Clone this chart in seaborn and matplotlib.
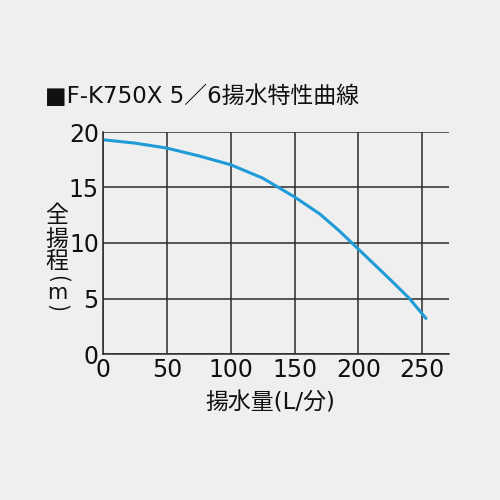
import matplotlib
matplotlib.use("Agg")
import matplotlib.pyplot as plt
import seaborn as sns
import pandas as pd

# data
flow = [0, 25, 50, 75, 100, 125, 150, 170, 185, 195, 200, 225, 240, 253]
head = [19.3, 19.0, 18.55, 17.85, 17.05, 15.85, 14.15, 12.6, 11.1, 10.0, 9.45, 6.7, 5.0, 3.2]
x_ticks = [0, 50, 100, 150, 200, 250]
y_ticks = [0, 5, 10, 15, 20]

title = "■F-K750X 5／6揚水特性曲線"
x_label = "揚水量(L/分)"
y_label = "全\n揚\n程"
y_unit = "m"

bg = "#efefef"
ink = "#2b2b2b"
blue = "#1f9bd7"
txt = "#111111"
latin_first = ["DejaVu Sans", "Noto Sans CJK JP"]

sns.set_theme(style="white")
plt.rcParams["font.family"] = ["Noto Sans CJK JP", "DejaVu Sans"]

df = pd.DataFrame({"flow": flow, "head": head})

fig = plt.figure(figsize=(5, 5), dpi=100, facecolor=bg)
ax = fig.add_axes([0.206, 0.292, 0.692, 0.444])
ax.set_facecolor(bg)

sns.lineplot(data=df, x="flow", y="head", ax=ax, color=blue, linewidth=2.2,
             solid_joinstyle="round")

ax.set_xlim(0, 271)
ax.set_ylim(0, 20)
ax.set_xticks(x_ticks)
ax.set_yticks(y_ticks)
ax.grid(True, color=ink, linewidth=1.1)
ax.set_axisbelow(True)
for side in ["top", "right"]:
    ax.spines[side].set_visible(False)
for side in ["left", "bottom"]:
    ax.spines[side].set_color(ink)
    ax.spines[side].set_linewidth(1.1)
ax.tick_params(length=0, labelsize=17, colors=txt, pad=3)
for lab in ax.get_xticklabels() + ax.get_yticklabels():
    lab.set_family(latin_first)
ax.set_xlabel("")
ax.set_ylabel("")

fig.text(0.09, 0.806, title, fontsize=16.5, color=txt, va="center", ha="left",
         family=latin_first)
fig.text(0.54, 0.194, x_label, fontsize=16.5, color=txt, va="center", ha="center",
         family=latin_first)

# vertical axis title, written top to bottom; brackets turned to lie flat
fig.text(0.114, 0.522, y_label, fontsize=16.5, color=txt, va="center", ha="center",
         linespacing=1.0)
fig.text(0.114, 0.443, "(", fontsize=15, color=txt, va="center", ha="center",
         rotation=-90)
fig.text(0.114, 0.414, y_unit, fontsize=15, color=txt, va="center", ha="center",
         family=latin_first)
fig.text(0.114, 0.386, ")", fontsize=15, color=txt, va="center", ha="center",
         rotation=-90)

fig.savefig("out.png", dpi=100, facecolor=bg)
